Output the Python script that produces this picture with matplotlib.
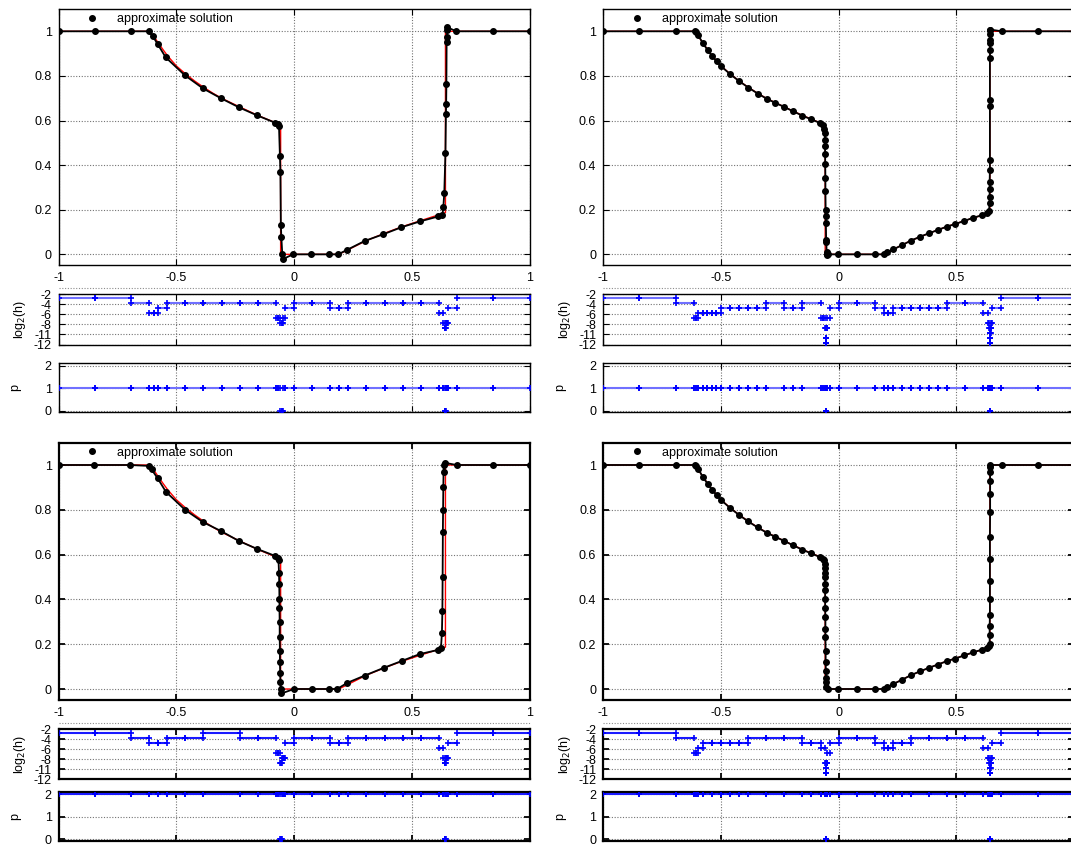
import matplotlib
matplotlib.use('Agg')
import matplotlib.pyplot as plt
import numpy as np

plt.rcParams['font.family'] = ['Liberation Sans', 'DejaVu Sans']
plt.rcParams['font.size'] = 9

W, H = 1071, 846

# exact solution (red reference curve)
exact_x = [-1.0, -0.615, -0.596, -0.578, -0.556, -0.537, -0.5, -0.46, -0.422, -0.384, -0.344,
           -0.306, -0.231, -0.154, -0.079, -0.057, -0.057, 0.19, 0.232, 0.306, 0.383, 0.459,
           0.534, 0.611, 0.643, 0.643, 1.0]
exact_y = [1.0, 1.0, 0.978, 0.95, 0.917, 0.89, 0.845, 0.808, 0.777, 0.749, 0.722,
           0.699, 0.661, 0.623, 0.59, 0.581, 0.0, 0.0, 0.022, 0.061, 0.094, 0.124,
           0.15, 0.176, 0.187, 1.0, 1.0]

# ---- top left: approximate solution, p = 1, coarse
tl_x = [-1.0, -0.847, -0.694, -0.617, -0.600, -0.579, -0.545, -0.464, -0.387, -0.311, -0.234,
        -0.157, -0.080, -0.070, -0.064, -0.060, -0.058, -0.056, -0.054, -0.050, -0.045, -0.004,
        0.072, 0.149, 0.187, 0.225, 0.300, 0.379, 0.455, 0.536, 0.613, 0.630, 0.634, 0.638,
        0.643, 0.645, 0.646, 0.647, 0.648, 0.649, 0.651, 0.651, 0.689, 0.843, 1.0]
tl_y = [1.0, 1.0, 1.0, 1.0, 0.978, 0.942, 0.883, 0.803, 0.744, 0.700, 0.659,
        0.623, 0.590, 0.585, 0.575, 0.440, 0.370, 0.130, 0.080, 0.000, -0.020, 0.0,
        0.0, 0.0, 0.0, 0.020, 0.060, 0.090, 0.121, 0.148, 0.170, 0.175, 0.211, 0.274,
        0.453, 0.628, 0.673, 0.762, 0.951, 0.973, 1.004, 1.018, 1.0, 1.0, 1.0]
tl_edges = [-1.0, -0.8462, -0.6923, -0.6154, -0.5962, -0.5769, -0.5385, -0.4615, -0.3846,
            -0.3077, -0.2308, -0.1538, -0.0769, -0.0673, -0.0577, -0.0529, -0.0481, -0.0385,
            0.0, 0.0769, 0.1538, 0.1923, 0.2308, 0.3077, 0.3846, 0.4615, 0.5385, 0.6154,
            0.6346, 0.6394, 0.6418, 0.6442, 0.6490, 0.6538, 0.6923, 0.8462, 1.0]
tl_log2h = [-2.7, -2.7, -3.7, -5.7, -5.7, -4.7, -3.7, -3.7, -3.7, -3.7, -3.7, -3.7,
            -6.7, -6.7, -7.7, -7.7, -6.7, -4.7, -3.7, -3.7, -4.7, -4.7,
            -3.7, -3.7, -3.7, -3.7, -3.7, -5.7, -7.7, -8.7, -8.7, -7.7, -7.7, -4.7, -2.7, -2.7]
tl_p = [1, 1, 1, 1, 1, 1, 1, 1, 1, 1, 1, 1, 1, 1, 0, 0, 1, 1, 1, 1, 1, 1,
        1, 1, 1, 1, 1, 1, 1, 0, 0, 1, 1, 1, 1, 1]

# ---- top right: approximate solution, p = 1, fine
tr_x = [-1.0, -0.847, -0.692, -0.612, -0.604, -0.596, -0.578, -0.556, -0.537, -0.518, -0.499,
        -0.460, -0.422, -0.384, -0.344, -0.306, -0.269, -0.231, -0.193, -0.154, -0.116, -0.079,
        -0.065, -0.060, -0.059, -0.058, -0.058, -0.057, -0.057, -0.056, -0.056, -0.055, -0.055,
        -0.054, -0.053, -0.052, -0.051, -0.050, -0.049, -0.044, -0.001, 0.077, 0.155, 0.193,
        0.207, 0.232, 0.271, 0.306, 0.346, 0.383, 0.421, 0.459, 0.496, 0.534, 0.572, 0.611,
        0.629, 0.639, 0.642, 0.642, 0.642, 0.642, 0.643, 0.643, 0.643, 0.643, 0.643, 0.644,
        0.644, 0.644, 0.644, 0.644, 0.644, 0.693, 0.846, 1.0]
tr_y = [1.0, 1.0, 1.0, 1.0, 0.995, 0.982, 0.948, 0.915, 0.888, 0.865, 0.843,
        0.807, 0.776, 0.748, 0.721, 0.698, 0.679, 0.661, 0.641, 0.622, 0.605, 0.589,
        0.579, 0.564, 0.545, 0.512, 0.485, 0.449, 0.406, 0.343, 0.283, 0.201, 0.171,
        0.142, 0.064, 0.054, 0.009, 0.0, -0.004, 0.0, 0.0, 0.0, 0.0, 0.0,
        0.009, 0.022, 0.042, 0.061, 0.079, 0.094, 0.109, 0.124, 0.136, 0.150, 0.164, 0.176,
        0.184, 0.195, 0.228, 0.258, 0.291, 0.325, 0.378, 0.422, 0.664, 0.694, 0.882, 0.915,
        0.948, 0.963, 0.990, 1.004, 1.008, 1.0, 1.0, 1.0]
tr_edges = [-1.0, -0.8462, -0.6923, -0.6154, -0.6058, -0.5962, -0.5769, -0.5577, -0.5385,
            -0.5192, -0.5000, -0.4615, -0.4231, -0.3846, -0.3462, -0.3077, -0.2308, -0.1923,
            -0.1538, -0.0769, -0.0673, -0.0577, -0.0553, -0.0547, -0.0541, -0.0538, -0.0535,
            -0.0529, -0.0505, -0.0481, -0.0385, 0.0, 0.0769, 0.1538, 0.1923, 0.2115, 0.2308,
            0.2692, 0.3077, 0.3462, 0.3846, 0.4231, 0.4615, 0.5385, 0.6154, 0.6346, 0.6394,
            0.6418, 0.6430, 0.6436, 0.6439, 0.6442, 0.6448, 0.6460, 0.6484, 0.6538, 0.6923,
            0.8462, 1.0]
tr_log2h = [-2.7, -2.7, -3.7, -6.7, -6.7, -5.7, -5.7, -5.7, -5.7, -5.7,
            -4.7, -4.7, -4.7, -4.7, -4.7, -3.7, -4.7, -4.7, -3.7,
            -6.7, -6.7, -8.7, -10.7, -10.7, -11.7, -11.7, -10.7, -8.7, -8.7, -6.7, -4.7,
            -3.7, -3.7, -4.7, -5.7, -5.7, -4.7, -4.7, -4.7, -4.7, -4.7, -4.7,
            -3.7, -3.7, -5.7, -7.7, -8.7, -9.7, -10.7, -11.7, -11.7, -10.7, -9.7, -8.7, -7.7,
            -4.7, -2.7, -2.7]
tr_p = [1, 1, 1, 1, 1, 1, 1, 1, 1, 1,
        1, 1, 1, 1, 1, 1, 1, 1, 1,
        1, 1, 1, 0, 0, 0, 0, 0, 1, 1, 1, 1,
        1, 1, 1, 1, 1, 1, 1, 1, 1, 1, 1,
        1, 1, 1, 1, 1, 1, 0, 0, 0, 0, 1, 1, 1,
        1, 1, 1]

# ---- bottom left: approximate solution, p = 2, coarse
bl_x = [-1.0, -0.851, -0.698, -0.617, -0.605, -0.579, -0.544, -0.463, -0.387, -0.310, -0.233,
        -0.156, -0.080, -0.070, -0.066, -0.064, -0.063, -0.062, -0.062, -0.061, -0.061, -0.060,
        -0.060, -0.059, -0.058, -0.057, -0.054, 0.0, 0.077, 0.149, 0.183, 0.225, 0.300, 0.380,
        0.457, 0.534, 0.610, 0.624, 0.628, 0.630, 0.631, 0.632, 0.633, 0.634, 0.635, 0.636,
        0.640, 0.690, 0.845, 1.0]
bl_y = [1.0, 1.0, 1.0, 0.996, 0.98, 0.94, 0.88, 0.80, 0.745, 0.705, 0.66,
        0.625, 0.594, 0.585, 0.576, 0.52, 0.47, 0.40, 0.36, 0.30, 0.23, 0.17,
        0.12, 0.07, 0.03, 0.0, -0.02, 0.0, 0.0, 0.0, 0.0, 0.027, 0.06, 0.094,
        0.125, 0.156, 0.174, 0.183, 0.25, 0.35, 0.50, 0.70, 0.80, 0.90, 0.97, 1.0,
        1.01, 1.0, 1.0, 1.0]
bl_edges = [-1.0, -0.8462, -0.6923, -0.6154, -0.5769, -0.5385, -0.4615, -0.3846, -0.2308,
            -0.1538, -0.0769, -0.0673, -0.0577, -0.0553, -0.0529, -0.0481, -0.0433, -0.0385,
            0.0, 0.0769, 0.1538, 0.1923, 0.2308, 0.3077, 0.3846, 0.4615, 0.5385, 0.6154,
            0.6346, 0.6394, 0.6418, 0.6442, 0.6490, 0.6538, 0.6923, 0.8462, 1.0]
bl_log2h = [-2.7, -2.7, -3.7, -4.7, -4.7, -3.7, -3.7, -2.7, -3.7, -3.7,
            -6.7, -6.7, -8.7, -8.7, -7.7, -7.7, -7.7, -4.7,
            -3.7, -3.7, -4.7, -4.7, -3.7, -3.7, -3.7, -3.7, -3.7,
            -5.7, -7.7, -8.7, -8.7, -7.7, -7.7, -4.7, -2.7, -2.7]
bl_p = [2, 2, 2, 2, 2, 2, 2, 2, 2, 2,
        2, 2, 0, 0, 2, 2, 2, 2,
        2, 2, 2, 2, 2, 2, 2, 2, 2,
        2, 2, 0, 0, 2, 2, 2, 2, 2]

# ---- bottom right: approximate solution, p = 2, fine
br_x = [-1.0, -0.847, -0.692, -0.612, -0.604, -0.596, -0.578, -0.556, -0.537, -0.518, -0.499,
        -0.460, -0.422, -0.384, -0.344, -0.306, -0.269, -0.231, -0.193, -0.154, -0.116, -0.079,
        -0.065, -0.060, -0.059, -0.059, -0.058, -0.058, -0.058, -0.057, -0.057, -0.057, -0.056,
        -0.056, -0.056, -0.055, -0.055, -0.054, -0.054, -0.053, -0.053, -0.044, -0.001, 0.077,
        0.155, 0.193, 0.207, 0.232, 0.271, 0.306, 0.346, 0.383, 0.421, 0.459, 0.496, 0.534,
        0.572, 0.611, 0.629, 0.639, 0.642, 0.642, 0.642, 0.643, 0.643, 0.643, 0.643, 0.643,
        0.644, 0.644, 0.644, 0.644, 0.644, 0.644, 0.693, 0.846, 1.0]
br_y = [1.0, 1.0, 1.0, 1.0, 0.995, 0.982, 0.948, 0.915, 0.888, 0.865, 0.843,
        0.807, 0.776, 0.748, 0.721, 0.698, 0.679, 0.661, 0.641, 0.622, 0.605, 0.589,
        0.579, 0.575, 0.56, 0.54, 0.52, 0.50, 0.47, 0.44, 0.40, 0.36, 0.32,
        0.27, 0.23, 0.17, 0.12, 0.08, 0.05, 0.03, 0.01, 0.0, 0.0, 0.0,
        0.0, 0.0, 0.009, 0.022, 0.042, 0.061, 0.079, 0.094, 0.109, 0.124, 0.136, 0.150,
        0.164, 0.176, 0.184, 0.19, 0.20, 0.24, 0.28, 0.33, 0.40, 0.48, 0.58, 0.68,
        0.79, 0.87, 0.93, 0.97, 0.99, 1.0, 1.0, 1.0, 1.0]
br_edges = [-1.0, -0.8462, -0.6923, -0.6154, -0.6058, -0.5962, -0.5769, -0.5385, -0.5000,
            -0.4615, -0.4231, -0.3846, -0.3077, -0.2308, -0.1538, -0.1154, -0.0769, -0.0577,
            -0.0553, -0.0547, -0.0541, -0.0529, -0.0505, -0.0481, -0.0385, 0.0, 0.0769,
            0.1538, 0.1923, 0.2115, 0.2308, 0.2692, 0.3077, 0.3846, 0.4615, 0.5385, 0.6154,
            0.6346, 0.6394, 0.6418, 0.6430, 0.6436, 0.6442, 0.6448, 0.6460, 0.6484, 0.6538,
            0.6923, 0.8462, 1.0]
br_log2h = [-2.7, -2.7, -3.7, -6.7, -6.7, -5.7, -4.7, -4.7, -4.7, -4.7, -4.7,
            -3.7, -3.7, -3.7, -4.7, -4.7, -5.7,
            -8.7, -10.7, -10.7, -9.7, -8.7, -8.7, -6.7, -4.7,
            -3.7, -3.7, -4.7, -5.7, -5.7, -4.7, -4.7, -3.7, -3.7, -3.7, -3.7,
            -5.7, -7.7, -8.7, -9.7, -10.7, -10.7, -10.7, -9.7, -8.7, -7.7, -4.7, -2.7, -2.7]
br_p = [2, 2, 2, 2, 2, 2, 2, 2, 2, 2, 2,
        2, 2, 2, 2, 2, 2,
        2, 0, 0, 2, 2, 2, 2, 2,
        2, 2, 2, 2, 2, 2, 2, 2, 2, 2, 2,
        2, 2, 2, 2, 0, 0, 0, 2, 2, 2, 2, 2, 2]

x_ticks = [-1, -0.5, 0, 0.5, 1]
x_ticklabels_left = ['-1', '-0.5', '0', '0.5', '1']
x_ticklabels_right = ['-1', '-0.5', '0', '0.5', '']   # "1" falls outside the picture
u_ticks = [0, 0.2, 0.4, 0.6, 0.8, 1.0]
u_ticklabels = ['0', '0.2', '0.4', '0.6', '0.8', '1']
h_ticks = [-2, -4, -6, -8, -10, -12]
h_ticklabels = ['-2', '-4', '-6', '-8', '-11', '-12']
p_ticks = [0, 1, 2]

GRID = dict(color='0.45', linestyle=(0, (1, 1.5)), linewidth=0.8)


def axes_px(fig, left, top, right, bottom):
    return fig.add_axes([left / W, 1 - bottom / H, (right - left) / W, (bottom - top) / H])


def style(ax, lw):
    for s in ax.spines.values():
        s.set_linewidth(lw)
    ax.tick_params(direction='in', top=True, right=True, length=4, width=lw * 0.8,
                   labelsize=9, pad=5)
    ax.set_xlim(-1, 1)
    ax.set_xticks(x_ticks)
    ax.grid(True, **GRID)
    ax.set_axisbelow(True)


def element_segments(edges, vals):
    xs, ys = [], []
    for i, v in enumerate(vals):
        xs += [edges[i], edges[i + 1], np.nan]
        ys += [v, v, np.nan]
    return xs, ys


def quadrant(fig, col, rows, xlabels, sol_x, sol_y, edges, log2h, p, line_color, lw, p_lim):
    (t0, b0), (t1, b1), (t2, b2) = rows
    left, right = col

    ax = axes_px(fig, left, t0, right, b0)
    style(ax, lw)
    ax.plot(exact_x, exact_y, color='red', lw=1.0, zorder=2)
    ax.plot(sol_x, sol_y, color='black', lw=1.3, marker='o', ms=4, zorder=3)
    ax.set_ylim(-0.05, 1.1)
    ax.set_yticks(u_ticks)
    ax.set_yticklabels(u_ticklabels)
    ax.set_xticklabels(xlabels)
    handle = plt.Line2D([], [], color='black', marker='o', ls='', ms=4)
    ax.legend([handle], ['approximate solution'], loc='center left', frameon=False,
              bbox_to_anchor=(0.055, 0.961), borderpad=0, borderaxespad=0,
              handlelength=1.2, handletextpad=1.4, fontsize=9)

    ax = axes_px(fig, left, t1, right, b1)
    style(ax, lw)
    xs, ys = element_segments(edges, log2h)
    ax.plot(xs, ys, color=line_color, lw=1.5, zorder=3)
    ax.plot(xs, ys, ls='', marker='+', ms=5, mew=1.2, color='blue', zorder=4)
    ax.set_ylim(-12, -2)
    ax.set_yticks(h_ticks)
    ax.set_yticklabels(h_ticklabels)
    ax.set_xticklabels([])
    ax.set_ylabel('log$_2$(h)', labelpad=4)
    ax.axhline(-0.85, color='0.55', linestyle=(0, (1, 1.5)), lw=0.8, clip_on=False)

    ax = axes_px(fig, left, t2, right, b2)
    style(ax, lw)
    xs, ys = element_segments(edges, p)
    ax.plot(xs, ys, color=line_color, lw=1.5, zorder=3)
    ax.plot(xs, ys, ls='', marker='+', ms=5, mew=1.2, color='blue', zorder=4)
    ax.set_ylim(*p_lim)
    ax.set_yticks(p_ticks)
    ax.set_xticklabels([])
    ax.set_ylabel('p', labelpad=17)


fig = plt.figure(figsize=(W / 100, H / 100), dpi=100)

LEFT_COL = (58.6, 529.5)
RIGHT_COL = (603.3, 1073.9)
TOP_ROWS = [(9, 265.5), (294, 344.5), (362.7, 412.3)]
BOTTOM_ROWS = [(442.6, 700.2), (729, 779), (792, 841)]

quadrant(fig, LEFT_COL, TOP_ROWS, x_ticklabels_left, tl_x, tl_y, tl_edges, tl_log2h, tl_p,
         '#7070ff', 1.0, (-0.06, 2.13))
quadrant(fig, RIGHT_COL, TOP_ROWS, x_ticklabels_right, tr_x, tr_y, tr_edges, tr_log2h, tr_p,
         '#7070ff', 1.0, (-0.06, 2.13))
quadrant(fig, LEFT_COL, BOTTOM_ROWS, x_ticklabels_left, bl_x, bl_y, bl_edges, bl_log2h, bl_p,
         '#1a1aff', 1.6, (-0.07, 2.1))
quadrant(fig, RIGHT_COL, BOTTOM_ROWS, x_ticklabels_right, br_x, br_y, br_edges, br_log2h, br_p,
         '#1a1aff', 1.6, (-0.07, 2.1))

fig.savefig('out.png', dpi=100)
